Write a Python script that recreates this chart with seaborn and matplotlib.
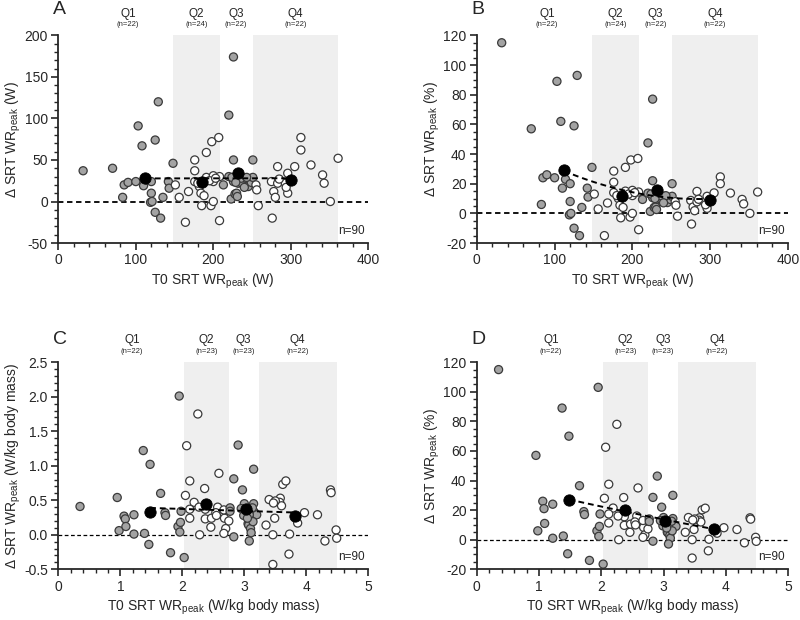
import numpy as np
import pandas as pd
import matplotlib
matplotlib.use("Agg")
import matplotlib.pyplot as plt
import matplotlib.transforms as mtransforms
from matplotlib.ticker import MultipleLocator, FormatStrFormatter
import seaborn as sns

# quartile groups
quartiles = ["Q1", "Q2", "Q3", "Q4"]
n_w = [22, 24, 22, 22]
n_kg = [22, 23, 23, 22]
edges_w = [32, 148, 208, 251, 361]
edges_kg = [0.35, 2.03, 2.75, 3.23, 4.49]

# T0 SRT WRpeak (W), delta (W) and delta (%)
t0_w_q1 = [32, 70, 83, 85, 90, 100, 103, 108, 110, 114, 119, 120, 120, 121, 125, 125, 129, 132, 135, 142, 143, 148]
dw_q1 = [37, 40, 5, 20, 23, 24, 91, 67, 19, 26, -1, 10, 24, 0, 74, -13, 120, -20, 5, 24, 16, 46]
pct_w_q1 = [115, 57, 6, 24, 26, 24, 89, 62, 17, 23, -1, 8, 20, 0, 59, -10, 93, -15, 4, 17, 11, 31]

t0_w_q2 = [151, 156, 164, 168, 176, 176, 176, 182, 184, 185, 188, 191, 191, 198, 197, 207, 208, 200, 200, 200, 208, 180, 195, 203]
dw_q2 = [20, 5, -25, 12, 50, 37, 24, 18, 10, -5, 7, 59, 29, 72, -5, 77, -23, 31, 0, 24, 30, 22, 25, 28]
pct_w_q2 = [13, 3, -15, 7, 28.5, 21, 14, 10, 5.5, -3, 4, 31, 15, 36, -2.5, 37, -11, 15.5, 0, 12, 14.4, 12, 13, 14]

t0_w_q3 = [226, 220, 226, 251, 213, 220, 223, 226, 228, 230, 231, 232, 237, 241, 245, 249, 251, 236, 243, 224, 240, 229]
dw_q3 = [174, 104, 50, 50, 20, 30, 3, 24, 9, 10, 6, 22, 22, 28, 18, 23, 29, 28, 29, 29, 17, 23]
pct_w_q3 = [77, 47.5, 22, 20, 9.4, 13.6, 1.3, 10.6, 4, 4.3, 2.6, 9.5, 9.3, 11.6, 7.3, 9.3, 11.5, 11.9, 11.9, 13, 7.1, 10]

t0_w_q4 = [255, 256, 258, 275, 278, 276, 280, 283, 283, 293, 296, 296, 305, 313, 313, 326, 341, 343, 351, 361, 294, 285]
dw_q4 = [20, 14, -5, 24, 12, -20, 5, 42, 22, 22, 34, 10, 42, 77, 62, 44, 32, 22, 0, 52, 17, 27]
pct_w_q4 = [7.9, 5.5, -1.9, 8.7, 4.3, -7.2, 1.8, 14.8, 7.8, 7.5, 11.5, 3.4, 13.8, 24.6, 20, 13.7, 9.4, 6.4, 0, 14.4, 5.8, 9.5]

# T0 SRT WRpeak (W/kg), delta (W/kg) and delta (%)
t0_kg_q1 = [0.35, 0.95, 0.98, 1.06, 1.08, 1.09, 1.22, 1.22, 1.37, 1.39, 1.46, 1.48, 1.65, 1.72, 1.73, 1.81, 1.93, 1.95, 1.96, 1.97, 1.98, 2.03]
dkg_q1 = [0.41, 0.54, 0.06, 0.27, 0.23, 0.12, 0.29, 0.01, 1.22, 0.02, -0.14, 1.02, 0.60, 0.32, 0.28, -0.26, 0.12, 2.01, 0.04, 0.18, 0.34, -0.33]
pct_kg_q1 = [115, 57, 6, 26, 21, 11, 24, 1, 89, 2.5, -9.5, 70, 36.5, 19, 17, -14, 6, 103, 2.3, 9, 17.4, -16.5]

t0_kg_q2 = [2.25, 2.07, 2.12, 2.05, 2.19, 2.12, 2.12, 2.36, 2.37, 2.37, 2.28, 2.46, 2.47, 2.57, 2.59, 2.54, 2.68, 2.70, 2.67, 2.75, 2.67, 2.27, 2.55]
dkg_q2 = [1.75, 1.29, 0.78, 0.57, 0.47, 0.37, 0.24, 0.67, 0.37, 0.23, 0.0, 0.11, 0.24, 0.40, 0.89, 0.32, 0.24, 0.09, 0.02, 0.20, 0.36, 0.40, 0.28]
pct_kg_q2 = [78, 62.5, 37.5, 28, 21.4, 17.4, 11.3, 28.5, 15.5, 9.7, 0, 5, 10.5, 16, 35, 12, 8.3, 3.3, 1.6, 7.3, 13, 16, 10]

t0_kg_q3 = [2.90, 3.15, 2.83, 2.97, 2.77, 2.77, 2.83, 3.00, 3.01, 2.99, 3.15, 3.16, 3.20, 3.08, 3.06, 3.07, 3.10, 3.11, 3.08, 3.14, 3.05, 3.13, 2.95]
dkg_q3 = [1.30, 0.95, 0.81, 0.65, 0.39, 0.34, -0.03, 0.45, 0.33, 0.28, 0.45, 0.33, 0.29, 0.29, 0.16, 0.14, 0.09, 0.03, -0.09, 0.19, 0.24, 0.39, 0.38]
pct_kg_q3 = [43, 30, 28.6, 22, 14, 12.3, -1, 15, 11, 9.4, 14.3, 10.4, 9, 9.4, 5.2, 4.6, 2.9, 1, -2.9, 6, 7.9, 12.5, 12.9]

t0_kg_q4 = [3.40, 3.49, 3.35, 3.46, 3.46, 3.58, 3.57, 3.60, 3.62, 3.67, 3.50, 3.72, 3.73, 3.86, 3.97, 4.18, 4.30, 4.39, 4.40, 4.48, 4.49, 3.47]
dkg_q4 = [0.51, 0.24, 0.14, 0.0, -0.43, 0.53, 0.47, 0.42, 0.73, 0.78, 0.49, -0.28, 0.01, 0.17, 0.32, 0.29, -0.09, 0.65, 0.61, 0.07, -0.05, 0.46]
pct_kg_q4 = [15, 6.9, 5, 0, -12.4, 14.8, 13.2, 12, 20.2, 21.3, 14, -7.5, 0.3, 4.4, 8.1, 6.9, -2.1, 14.8, 13.9, 1.6, -1.1, 13.3]

# quartile means
mean_t0_w = [112, 186, 231.5, 300]
mean_dw = [28.5, 23, 34, 26]
mean_pct_w = [29.5, 12, 15.5, 8.8]
mean_t0_kg = [1.48, 2.38, 3.02, 3.81]
mean_dkg = [0.33, 0.44, 0.38, 0.27]
mean_pct_kg = [27, 19.8, 12.8, 7.4]

sns.set_style("ticks")
plt.rcParams["font.family"] = ["Liberation Sans", "DejaVu Sans"]
plt.rcParams["mathtext.default"] = "regular"
plt.rcParams["axes.unicode_minus"] = False

colors = {"Q1": "#a3a3a3", "Q2": "white", "Q3": "#a3a3a3", "Q4": "white"}
dash = (0, (3, 2))


def draw_panel(ax, xs, ys, mx, my, edges, counts, xlim, ylim, xmaj, xmin, ymaj, ymin,
               xlabel, ylabel, deg, zero_lw):
    df = pd.DataFrame({
        "x": np.concatenate(xs),
        "y": np.concatenate(ys),
        "q": np.repeat(quartiles, [len(v) for v in xs]),
    })
    for lo, hi in [(edges[1], edges[2]), (edges[3], edges[4])]:
        ax.axvspan(lo, hi, color="#efefef", lw=0, zorder=0)
    ax.axhline(0, color="black", ls=dash, lw=zero_lw, zorder=1)
    sns.scatterplot(data=df, x="x", y="y", hue="q", palette=colors, edgecolor="#3a3a3a",
                    linewidth=0.9, s=34, legend=False, ax=ax, zorder=2)
    coef = np.polyfit(mx, my, deg)
    fx = np.linspace(min(mx), max(mx), 60)
    ax.plot(fx, np.polyval(coef, fx), color="black", ls=dash, lw=1.4, zorder=3)
    sns.scatterplot(x=mx, y=my, color="black", edgecolor="black", s=66, ax=ax, zorder=4)

    ax.set_xlim(*xlim)
    ax.set_ylim(*ylim)
    ax.xaxis.set_major_locator(MultipleLocator(xmaj))
    ax.xaxis.set_minor_locator(MultipleLocator(xmin))
    ax.yaxis.set_major_locator(MultipleLocator(ymaj))
    ax.yaxis.set_minor_locator(MultipleLocator(ymin))
    ax.tick_params(which="major", length=5, width=1.2, labelsize=10, pad=2.5, direction="out")
    ax.tick_params(which="minor", length=3, width=1.0, direction="out")
    sns.despine(ax=ax)
    for s in ["left", "bottom"]:
        ax.spines[s].set_linewidth(1.3)
    ax.set_xlabel(xlabel, fontsize=10, labelpad=3)
    ax.set_ylabel(ylabel, fontsize=10, labelpad=1)

    trans = mtransforms.blended_transform_factory(ax.transData, ax.transAxes)
    for i, q in enumerate(quartiles):
        cx = (edges[i] + edges[i + 1]) / 2
        ax.text(cx, 1.105, q, transform=trans, ha="center", va="center", fontsize=8.5)
        ax.text(cx, 1.05, f"(n={counts[i]})", transform=trans, ha="center", va="center", fontsize=5.5)
    ax.text(0.99, 0.06, "n=90", transform=ax.transAxes, ha="right", va="center", fontsize=8.5)


fig = plt.figure(figsize=(8, 6.2), dpi=100)
ax_a = fig.add_axes([0.0729, 0.608, 0.3875, 0.335])
ax_b = fig.add_axes([0.596, 0.608, 0.389, 0.335])
ax_c = fig.add_axes([0.0729, 0.0818, 0.3875, 0.334])
ax_d = fig.add_axes([0.596, 0.0818, 0.389, 0.334])

xw = [t0_w_q1, t0_w_q2, t0_w_q3, t0_w_q4]
xkg = [t0_kg_q1, t0_kg_q2, t0_kg_q3, t0_kg_q4]
lab_w = "T0 SRT WR$_{peak}$ (W)"
lab_kg = "T0 SRT WR$_{peak}$ (W/kg body mass)"

draw_panel(ax_a, xw, [dw_q1, dw_q2, dw_q3, dw_q4], mean_t0_w, mean_dw, edges_w, n_w,
           (0, 400), (-50, 200), 100, 20, 50, 10, lab_w, "Δ SRT WR$_{peak}$ (W)", 1, 1.3)
draw_panel(ax_b, xw, [pct_w_q1, pct_w_q2, pct_w_q3, pct_w_q4], mean_t0_w, mean_pct_w, edges_w, n_w,
           (0, 400), (-20, 120), 100, 20, 20, 5, lab_w, "Δ SRT WR$_{peak}$ (%)", 2, 1.3)
draw_panel(ax_c, xkg, [dkg_q1, dkg_q2, dkg_q3, dkg_q4], mean_t0_kg, mean_dkg, edges_kg, n_kg,
           (0, 5), (-0.5, 2.5), 1, 0.2, 0.5, 0.1, lab_kg, "Δ SRT WR$_{peak}$ (W/kg body mass)", 1, 0.9)
draw_panel(ax_d, xkg, [pct_kg_q1, pct_kg_q2, pct_kg_q3, pct_kg_q4], mean_t0_kg, mean_pct_kg, edges_kg, n_kg,
           (0, 5), (-20, 120), 1, 0.2, 20, 5, lab_kg, "Δ SRT WR$_{peak}$ (%)", 2, 0.9)

ax_c.yaxis.set_major_formatter(FormatStrFormatter("%.1f"))

for letter, x, y in [("A", 0.066, 0.998), ("B", 0.589, 0.998), ("C", 0.066, 0.466), ("D", 0.589, 0.466)]:
    fig.text(x, y, letter, ha="left", va="top", fontsize=14)

fig.savefig("out.png", dpi=100)
